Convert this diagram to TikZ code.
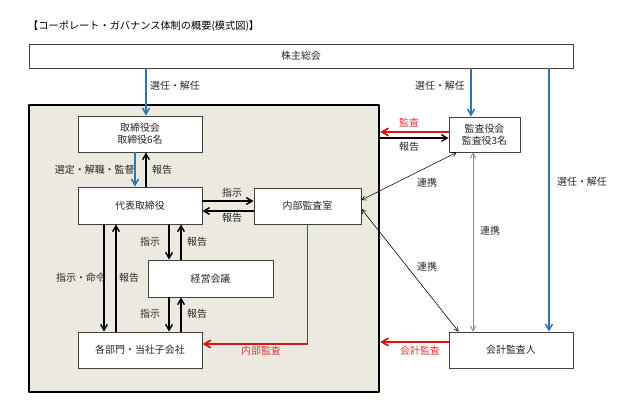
\documentclass[tikz,border=0pt]{standalone}
\usepackage{fontspec}
\setmainfont{Noto Sans CJK JP}
\usetikzlibrary{arrows,calc}
\definecolor{selblue}{RGB}{46,117,182}
\definecolor{audred}{RGB}{218,20,20}
\definecolor{framebg}{RGB}{236,233,225}

\begin{document}
\begin{tikzpicture}[line cap=round,line join=round,>=angle 60,x=0.03cm,y=-0.03cm,
    font=\fontsize{8.5}{10}\selectfont,
    box/.style={draw=black!75,line width=0.8pt,fill=white,align=center,inner sep=0pt,text=black!85},
    elect/.style={->,draw=selblue,line width=1.3pt},
    order/.style={->,line width=1.2pt},
    audit/.style={->,draw=audred,line width=1.5pt},
    link/.style={<->,line width=0.5pt},
    lbl/.style={inner sep=1pt,text=black!85},
    redlbl/.style={inner sep=1pt,text=audred!85}]
            \useasboundingbox (0,0) rectangle (635,409);

            \node [anchor=west,inner sep=0pt,font=\fontsize{8.7}{10}\selectfont] (title) at (28,26) {【コーポレート・ガバナンス体制の概要(模式図)】};

            % boxes
            \node [box,minimum width=16.32cm,minimum height=0.72cm] (soukai) at (301,56) {株主総会};
            \node [draw=black,line width=2pt,fill=framebg,minimum width=10.5cm,minimum height=8.61cm] (frame) at (204,248.5) {};
            \node [box,minimum width=3.72cm,minimum height=1.08cm] (torishimari) at (140,134) {取締役会\\取締役6名};
            \node [box,minimum width=3.72cm,minimum height=1.11cm] (daihyo) at (140,205.5) {代表取締役};
            \node [box,minimum width=3.21cm,minimum height=1.08cm] (naibu) at (307.5,206) {内部監査室};
            \node [box,minimum width=3.75cm,minimum height=1.11cm] (keiei) at (210.5,278.5) {経営会議};
            \node [box,minimum width=3.72cm,minimum height=1.08cm] (bumon) at (140,350) {各部門・当社子会社};
            \node [box,minimum width=2.13cm,minimum height=1.05cm] (kansayaku) at (484.5,134.5) {監査役会\\監査役3名};
            \node [box,minimum width=3.72cm,minimum height=1.08cm] (kaikei) at (511,350) {会計監査人};

            % 選任・解任
            \draw [elect] ($(soukai.south)+(-155,0)$) -- ($(torishimari.north)+(6,0)$);
            \draw [elect] ($(soukai.south)+(170,0)$) -- ($(kansayaku.north)+(-13.5,0)$);
            \draw [elect] ($(soukai.south)+(248,0)$) -- ($(kaikei.north)+(38,0)$);
            \node [lbl] (l1) at (175,86) {選任・解任};
            \node [lbl] (l2) at (440,86) {選任・解任};
            \node [lbl] (l3) at (582,182) {選任・解任};

            % 取締役会 - 代表取締役
            \draw [elect] ($(torishimari.south)+(-5,0)$) -- ($(daihyo.north)+(-5,0)$);
            \draw [order] ($(daihyo.north)+(6,0)$) -- ($(torishimari.south)+(6,0)$);
            \node [lbl,anchor=east] (l4) at (136,170) {選定・解職・監督};
            \node [lbl] (l5) at (162,170) {報告};

            % 代表取締役 - 内部監査室
            \draw [order] ($(daihyo.east)+(0,-4.5)$) -- ($(naibu.west)+(0,-5)$);
            \draw [order] ($(naibu.west)+(0,5)$) -- ($(daihyo.east)+(0,5.5)$);
            \node [lbl] (l6) at (232,193) {指示};
            \node [lbl] (l7) at (232,218) {報告};

            % 代表取締役 - 各部門
            \draw [order] ($(daihyo.south)+(-36,0)$) -- ($(bumon.north)+(-36,0)$);
            \draw [order] ($(bumon.north)+(-24,0)$) -- ($(daihyo.south)+(-24,0)$);
            \node [lbl] (l8) at (81,278) {指示・命令};
            \node [lbl] (l9) at (129,278) {報告};

            % 代表取締役 - 経営会議 - 各部門
            \draw [order] ($(daihyo.south)+(29,0)$) -- ($(keiei.north)+(-41.5,0)$);
            \draw [order] ($(keiei.north)+(-29.5,0)$) -- ($(daihyo.south)+(41,0)$);
            \draw [order] ($(keiei.south)+(-41.5,0)$) -- ($(bumon.north)+(29,0)$);
            \draw [order] ($(bumon.north)+(41,0)$) -- ($(keiei.south)+(-29.5,0)$);
            \node [lbl] (l10) at (150,242) {指示};
            \node [lbl] (l11) at (197,242) {報告};
            \node [lbl] (l12) at (150,314) {指示};
            \node [lbl] (l13) at (197,314) {報告};

            % 監査
            \draw [audit] (naibu.south) |- ($(bumon.east)+(0,-6)$);
            \node [redlbl] (l14) at (261,351) {内部監査};
            \draw [audit] ($(kansayaku.west)+(0,-2.5)$) -- ($(frame.east)+(0,-116.5)$);
            \draw [order] ($(frame.east)+(0,-110.5)$) -- ($(kansayaku.west)+(0,3.5)$);
            \node [redlbl] (l15) at (409,123) {監査};
            \node [lbl] (l16) at (409,147) {報告};
            \draw [audit] ($(kaikei.west)+(0,-8)$) -- ($(frame.east)+(0,93.5)$);
            \node [redlbl] (l17) at (420,351) {会計監査};

            % 連携
            \draw [link] ($(kansayaku.south west)+(8,0)$) -- ($(naibu.east)+(0,-6)$);
            \draw [link] ($(naibu.east)+(0,3)$) -- ($(kaikei.north west)+(10,0)$);
            \draw [link,draw=black!45,line width=0.8pt] ($(kansayaku.south)+(-11.5,0)$) -- ($(kaikei.north)+(-38,0)$);
            \node [lbl] (l18) at (427,183) {連携};
            \node [lbl] (l19) at (490,231) {連携};
            \node [lbl] (l20) at (427,267) {連携};
\end{tikzpicture}
\end{document}
